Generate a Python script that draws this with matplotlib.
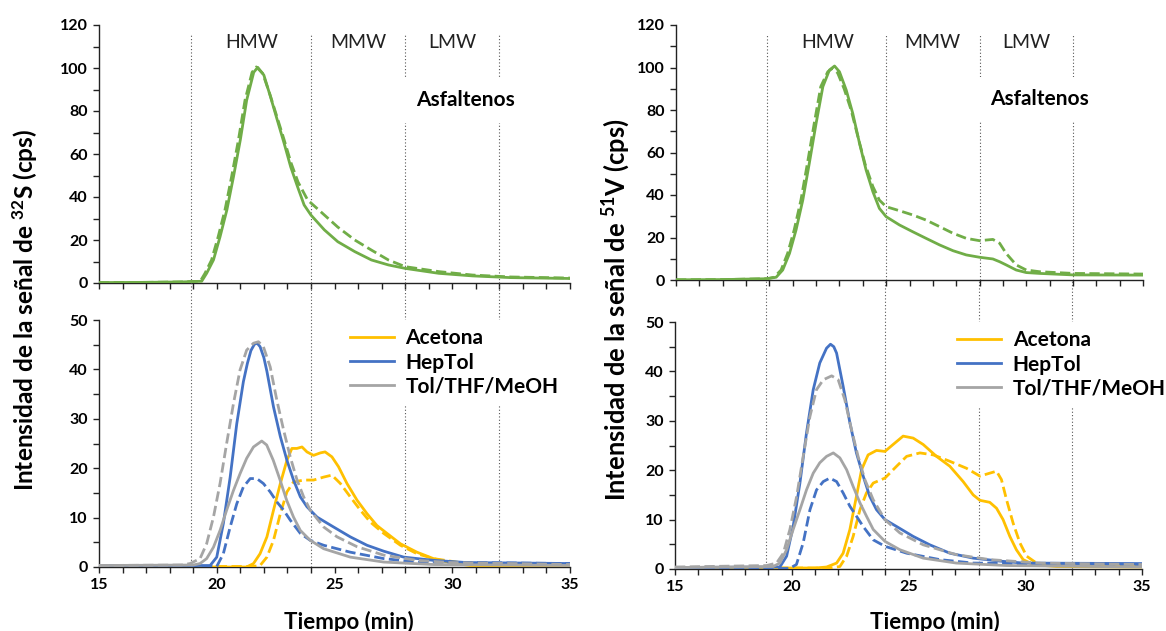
import matplotlib.pyplot as plt
from matplotlib.ticker import MultipleLocator

plt.rcParams['font.family'] = ['Lato', 'DejaVu Sans']
plt.rcParams['mathtext.fontset'] = 'custom'
plt.rcParams['mathtext.bf'] = 'Lato:bold'
plt.rcParams['mathtext.rm'] = 'Lato'
plt.rcParams['mathtext.default'] = 'bf'

GREEN = '#70AD47'
BLUE = '#4472C4'
GRAY = '#A5A5A5'
GOLD = '#FFC000'

# ---- 32S, asfaltenos (top left) ----
s_asf_t = [15, 17, 18.5, 19.36, 19.57, 19.86, 20.14, 20.43, 20.71, 21.0, 21.27, 21.57, 21.74, 22.0,
           22.28, 22.57, 22.86, 23.14, 23.43, 23.71, 24.0, 24.57, 25.14, 25.86, 26.57, 27.29, 28.0,
           29.43, 30.86, 32.5, 35]
s_asf = [0.2, 0.3, 0.5, 0.8, 4.5, 10.7, 21.5, 34, 49.4, 66.5, 85, 98, 100.3, 96.7,
         86.7, 75.8, 65, 54, 44.8, 36.3, 31.6, 24.7, 19.2, 14.6, 10.7, 8.4, 6.8,
         4.5, 3.3, 2.5, 2.1]
s_asf2_t = [15, 17, 18.5, 19.3, 19.5, 19.78, 20.06, 20.35, 20.63, 20.92, 21.2, 21.5, 21.68, 21.95,
            22.25, 22.55, 22.85, 23.15, 23.45, 23.86, 24.43, 25.14, 25.86, 26.57, 27.29, 28.0,
            29.43, 30.86, 32.5, 35]
s_asf2 = [0.2, 0.3, 0.5, 0.8, 4.5, 10.7, 21.5, 34, 49.4, 66.5, 85, 98, 100.5, 97.5,
          88, 77.5, 67, 56, 47, 38.6, 33, 26, 20, 15.3, 10.7, 7.6,
          5.3, 3.7, 2.8, 2.3]

# ---- 51V, asfaltenos (top right) ----
v_asf_t = [15, 17, 18.9, 19.29, 19.57, 19.86, 20.14, 20.43, 20.71, 21.0, 21.29, 21.57, 21.79, 22.0,
           22.29, 22.57, 22.86, 23.14, 23.43, 23.71, 24.0, 24.57, 25.14, 25.71, 26.29, 26.86, 27.43,
           28.0, 28.57, 28.86, 29.14, 29.57, 30.0, 30.57, 32.0, 35]
v_asf = [0.1, 0.2, 0.6, 1.3, 4.7, 12.5, 23.5, 37.6, 55, 73.7, 91, 98.8, 100.7, 98,
         89.4, 78.4, 64.3, 51.8, 41.6, 33.7, 29.8, 25.9, 22.7, 19.6, 16.5, 13.8, 11.8,
         10.7, 9.9, 8.6, 7.1, 4.7, 3.5, 3.1, 2.4, 2.3]
v_asf2_t = [15, 17, 18.9, 19.2, 19.5, 19.78, 20.06, 20.35, 20.63, 20.92, 21.2, 21.5, 21.7, 21.92,
            22.2, 22.5, 22.8, 23.1, 23.43, 23.71, 24.0, 24.57, 25.14, 25.71, 26.29, 26.86, 27.43,
            28.0, 28.57, 28.86, 29.14, 29.57, 30.0, 30.57, 32.0, 35]
v_asf2 = [0.1, 0.2, 0.6, 1.3, 4.7, 12.5, 23.5, 37.6, 55, 73.7, 91, 98, 99.6, 97.5,
          90, 80, 67, 54.5, 44, 37.6, 34.5, 32.6, 30.6, 28.2, 25.1, 22, 19.6,
          18.5, 19.1, 17.3, 12.5, 7.1, 4.7, 3.9, 3.1, 2.8]

# ---- 32S, fractions (bottom left) ----
s_hep_t = [15, 19.72, 20.0, 20.28, 20.57, 20.85, 21.13, 21.3, 21.45, 21.6, 21.72, 21.84, 22.0, 22.13,
           22.41, 22.7, 22.98, 23.26, 23.55, 23.83, 24.26, 24.96, 25.67, 26.38, 27.09, 27.94, 29.2,
           30.6, 35]
s_hep = [0.3, 0.3, 2, 8.8, 18.2, 29, 37.5, 41.2, 43.8, 45.1, 45.3, 44.6, 42.4, 39.6,
         32.4, 26.4, 21.6, 17.6, 14.2, 12.2, 10.1, 8.1, 6.1, 4.4, 3.2, 2.0, 1.35,
         0.9, 0.7]
s_hep2_t = [15, 20.0, 20.28, 20.57, 20.85, 21.13, 21.42, 21.7, 21.98, 22.27, 22.55, 22.84, 23.12,
            23.55, 23.97, 24.54, 25.67, 27.09, 28.5, 35]
s_hep2 = [0.1, 0.1, 2.7, 8.1, 12.8, 16.2, 17.9, 17.9, 16.9, 15.2, 13.2, 11.5, 9.5,
          6.8, 5.4, 4.4, 3.0, 1.7, 1.0, 0.7]
s_tol_t = [15, 19.0, 19.29, 19.57, 19.86, 20.14, 20.42, 20.71, 20.99, 21.27, 21.56, 21.91, 22.12, 22.4,
           22.69, 22.97, 23.26, 23.55, 23.97, 24.54, 25.67, 27.09, 29.2, 35]
s_tol = [0.3, 0.4, 0.7, 1.7, 4, 7.4, 11.5, 15.5, 18.9, 22, 24.3, 25.5, 24.7, 21.6,
         17.6, 13.5, 10.1, 7.4, 5.4, 3.7, 2.0, 1.0, 0.5, 0.3]
s_tol2_t = [15, 18.5, 18.87, 19.29, 19.57, 19.86, 20.14, 20.42, 20.71, 20.99, 21.27, 21.56, 21.77, 21.98,
            22.27, 22.55, 22.84, 23.12, 23.41, 23.69, 23.97, 24.54, 25.11, 25.96, 27.09, 28.5, 29.9, 35]
s_tol2 = [0.3, 0.4, 0.7, 1.7, 4.7, 10.1, 16.9, 25, 33.1, 39.9, 43.9, 45.3, 45.6, 44.6,
          40.5, 33.8, 27.7, 22.3, 17.6, 14.2, 11.5, 8.1, 6.1, 4.1, 2.4, 1.35, 0.9, 0.5]
s_ace_t = [15, 21.27, 21.56, 21.84, 22.13, 22.41, 22.7, 22.98, 23.19, 23.4, 23.62, 23.83, 24.11, 24.4,
           24.6, 24.89, 25.17, 25.53, 25.96, 26.38, 26.8, 27.23, 27.8, 28.5, 29.2, 29.9, 30.75, 35]
s_ace = [0.0, 0.0, 0.7, 2.7, 6.1, 11.5, 16.9, 21.6, 24, 24, 24.3, 23.3, 22.6, 23.1,
         23.3, 22.3, 20.3, 16.9, 13.5, 10.8, 8.4, 6.8, 4.7, 3.0, 1.7, 0.9, 0.3, 0.0]
s_ace2_t = [15, 21.5, 21.84, 22.13, 22.41, 22.7, 22.98, 23.26, 23.69, 24.11, 24.54, 24.89, 25.25,
            25.67, 26.1, 26.52, 27.09, 27.8, 28.5, 29.2, 30.6, 35]
s_ace2 = [0.1, 0.1, 0.3, 2.0, 5.4, 10.8, 15.2, 17.2, 17.6, 17.6, 18.2, 18.6, 16.9,
          14.2, 11.5, 9.1, 6.8, 4.4, 2.7, 1.7, 0.7, 0.3]

# ---- 51V, fractions (bottom right) ----
v_hep_t = [15, 19.49, 19.78, 20.06, 20.35, 20.63, 20.92, 21.2, 21.49, 21.66, 21.8, 21.92, 22.2, 22.49,
           22.77, 23.06, 23.34, 23.63, 23.99, 24.49, 25.2, 25.91, 26.77, 27.77, 28.91, 29.91, 35]
v_hep = [0.3, 0.4, 2.6, 8.6, 17.4, 27.5, 36.3, 41.7, 44.7, 45.5, 45.0, 43.7, 37, 29.6,
         23.5, 18.8, 14.7, 12, 10, 8.6, 6.6, 4.9, 3.2, 2.2, 1.6, 1.2, 1.1]
v_hep2_t = [15, 19.9, 20.2, 20.49, 20.78, 21.06, 21.35, 21.63, 21.92, 22.2, 22.49, 22.77, 23.06,
            23.49, 23.99, 24.92, 26.34, 27.77, 35]
v_hep2 = [0.1, 0.1, 0.9, 5.3, 12, 16, 17.7, 18.4, 17.7, 15.4, 12.7, 10.7, 8.6,
          5.9, 4.6, 3.2, 1.9, 1.2, 0.9]
v_tol_t = [15, 19.2, 19.49, 19.78, 20.06, 20.35, 20.63, 20.92, 21.2, 21.49, 21.78, 22.06, 22.35,
           22.63, 22.92, 23.2, 23.49, 23.99, 24.63, 25.63, 27.05, 29.2, 35]
v_tol = [0.3, 0.5, 1.2, 3.9, 8, 12, 16, 19.4, 21.5, 22.8, 23.5, 22.5, 20.1,
         16.7, 13.4, 10.7, 8, 5.6, 3.9, 2.2, 1.2, 0.7, 0.4]
v_tol2_t = [15, 18.92, 19.35, 19.64, 19.92, 20.21, 20.49, 20.78, 21.06, 21.35, 21.71, 21.99, 22.27,
            22.56, 22.84, 23.13, 23.49, 23.99, 24.63, 25.63, 27.05, 28.48, 30.62, 35]
v_tol2 = [0.4, 0.7, 1.2, 3.2, 8, 14.7, 22.8, 30.9, 36.3, 38.3, 39.1, 38.3, 34.3,
          28.2, 22.8, 18.1, 14, 10, 7.3, 4.9, 2.9, 1.9, 1.2, 0.9]
v_ace_t = [15, 21.0, 21.49, 21.92, 22.2, 22.49, 22.77, 22.99, 23.27, 23.63, 23.99, 24.34, 24.77,
           25.2, 25.63, 26.2, 26.77, 27.34, 27.77, 28.06, 28.48, 28.77, 29.05, 29.34, 29.62,
           29.91, 30.34, 31.33, 35]
v_ace = [0.2, 0.2, 0.4, 1.2, 3.2, 8, 14.7, 20.1, 23.1, 24, 23.8, 25.2, 26.9,
         26.5, 25.2, 22.8, 20.8, 17.7, 15, 13.9, 13.5, 12.3, 10, 6.6, 3.9,
         1.9, 0.9, 0.5, 0.4]
v_ace2_t = [15, 21.6, 22.06, 22.35, 22.63, 22.92, 23.2, 23.49, 23.99, 24.49, 24.92, 25.49, 26.06,
            26.77, 27.48, 28.06, 28.48, 28.77, 28.98, 29.2, 29.48, 29.77, 30.06, 30.48, 31.48, 35]
v_ace2 = [0.2, 0.2, 0.5, 2.6, 6.6, 12, 15.4, 17.4, 18.4, 20.8, 22.8, 23.5, 23.1,
          21.8, 20.4, 18.8, 19.4, 19.8, 18.1, 14, 9.3, 5.3, 2.6, 1.2, 0.9, 0.7]

regions = ['HMW', 'MMW', 'LMW']
region_x = [21.5, 26, 30]
cut_times = [18.9, 24, 28, 32]
legend_labels = ['Acetona', 'HepTol', 'Tol/THF/MeOH']

fig = plt.figure(figsize=(11.66, 6.31), dpi=100)
W, H = 1166, 631


def px_axes(x0, y0, x1, y1):
    return fig.add_axes([x0 / W, 1 - y1 / H, (x1 - x0) / W, (y1 - y0) / H])


def style(ax, ymax, major, minor, xlabels):
    ax.set_xlim(15, 35)
    ax.set_ylim(0, ymax)
    for s in ['top', 'right']:
        ax.spines[s].set_visible(False)
    for s in ['left', 'bottom']:
        ax.spines[s].set_color('#222222')
        ax.spines[s].set_linewidth(1.0)
    ax.xaxis.set_major_locator(MultipleLocator(5))
    ax.xaxis.set_minor_locator(MultipleLocator(1))
    ax.yaxis.set_major_locator(MultipleLocator(major))
    ax.yaxis.set_minor_locator(MultipleLocator(minor))
    ax.tick_params(which='both', direction='out', length=4, width=1, color='#222222',
                   labelsize=11.5, pad=4)
    for lab in ax.get_xticklabels() + ax.get_yticklabels():
        lab.set_fontweight('bold')
    if not xlabels:
        ax.tick_params(axis='x', labelbottom=False)


dot = dict(color='#555555', lw=0.8, ls=(0, (1, 2)), zorder=0.5)

for col, (ax_top_px, ax_bot_px, asf, fr, leg_x, ylab, xlab_x, ylab_size) in enumerate([
        ((99, 25, 570, 283), (99, 320, 570, 567),
         [(s_asf_t, s_asf, '-'), (s_asf2_t, s_asf2, '--')],
         [(s_ace_t, s_ace, s_ace2_t, s_ace2, GOLD), (s_hep_t, s_hep, s_hep2_t, s_hep2, BLUE),
          (s_tol_t, s_tol, s_tol2_t, s_tol2, GRAY)],
         0.516, 'Intensidad de la señal de $^{32}$S (cps)', 349, 17.6),
        ((676, 25, 1143, 280), (675, 322, 1142, 569),
         [(v_asf_t, v_asf, '-'), (v_asf2_t, v_asf2, '--')],
         [(v_ace_t, v_ace, v_ace2_t, v_ace2, GOLD), (v_hep_t, v_hep, v_hep2_t, v_hep2, BLUE),
          (v_tol_t, v_tol, v_tol2_t, v_tol2, GRAY)],
         0.587, 'Intensidad de la señal de $^{51}$V (cps)', 935, 18.4)]):

    axt = px_axes(*ax_top_px)
    axb = px_axes(*ax_bot_px)
    style(axt, 120, 20, 10, False)
    style(axb, 50, 10, 5, True)

    gap = (ax_bot_px[1] - ax_top_px[3]) / (ax_bot_px[3] - ax_bot_px[1])
    for c in cut_times:
        axt.axvline(c, ymin=0, ymax=0.965, **dot)
        axb.axvline(c, ymin=0, ymax=1 + gap, clip_on=False, **dot)

    for t, y, ls in asf:
        axt.plot(t, y, color=GREEN, lw=2, ls=ls, zorder=3)
    for name, x in zip(regions, region_x):
        axt.text(x, 112, name, ha='center', va='center', fontsize=14, color='#222222')
    axt.text(30.55, 85, 'Asfaltenos', ha='center', va='center', fontsize=15,
             fontweight='bold', color='black', zorder=4,
             bbox=dict(facecolor='white', edgecolor='none', pad=9))

    handles = []
    for (t1, y1, t2, y2, color), lab in zip(fr, legend_labels):
        h, = axb.plot(t1, y1, color=color, lw=2, zorder=3, label=lab)
        axb.plot(t2, y2, color=color, lw=2, ls='--', zorder=3)
        handles.append(h)
    leg = axb.legend(handles=handles, loc='upper left', bbox_to_anchor=(leg_x, 1.0),
                     frameon=True, fancybox=False, borderaxespad=0, borderpad=0.4,
                     handlelength=2.1, handletextpad=0.55, labelspacing=0.2,
                     prop={'weight': 'bold', 'size': 15})
    leg.get_frame().set_facecolor('white')
    leg.get_frame().set_edgecolor('none')
    leg.get_frame().set_alpha(1)
    leg.set_zorder(5)

    ycx = 25 if col == 0 else 616
    fig.text(ycx / W, 1 - 310 / H, ylab, rotation=90, ha='center', va='center',
             fontsize=ylab_size, fontweight='bold')
    fig.text(xlab_x / W, 1 - 622 / H, 'Tiempo (min)', ha='center', va='center',
             fontsize=16, fontweight='bold')

fig.savefig('out.png', dpi=100)
